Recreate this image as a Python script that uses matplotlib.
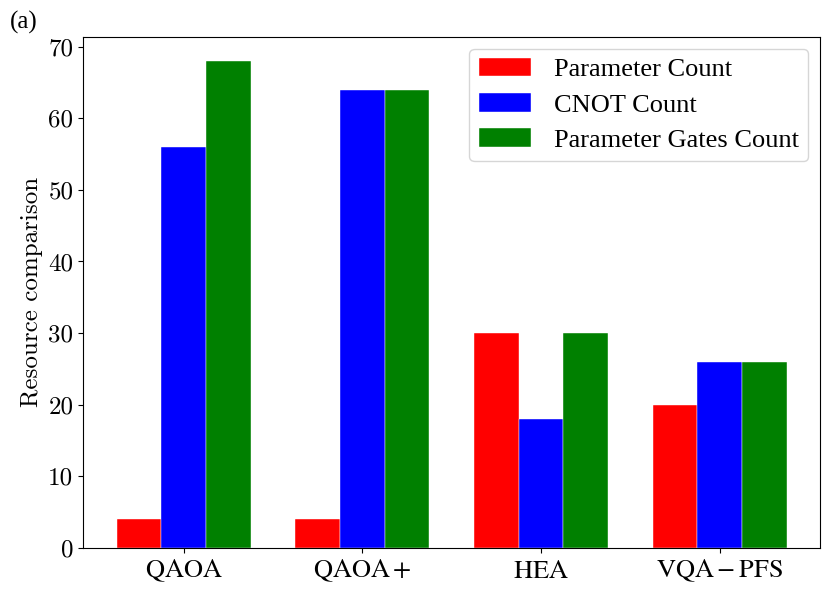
import numpy as np
import matplotlib
matplotlib.use('Agg')
import matplotlib.pyplot as plt

# data
methods = [r'$\mathrm{QAOA}$', r'$\mathrm{QAOA+}$', r'$\mathrm{HEA}$', r'$\mathrm{VQA-PFS}$']
param_count = [4, 4, 30, 20]
cnot_count = [56, 64, 18, 26]
param_gates_count = [68, 64, 30, 26]
series_names = ['Parameter Count', 'CNOT Count', 'Parameter Gates Count']
colors = ['red', 'blue', 'green']
yticks = [0, 10, 20, 30, 40, 50, 60, 70]

fig = plt.figure(figsize=(8.3, 5.91), dpi=100)
ax = fig.add_axes([0.1, 0.073, 0.888, 0.865])

x = np.arange(len(methods))
w = 0.25
for k, vals in enumerate([param_count, cnot_count, param_gates_count]):
    ax.bar(x + (k - 1) * w, vals, w, color=colors[k], label=series_names[k],
           edgecolor='white', linewidth=0.3)

ax.set_xticks(x)
ax.set_xticklabels(methods, fontsize=19, math_fontfamily='stix')
ax.set_yticks(yticks)
ax.set_yticklabels([str(v) for v in yticks], fontsize=18, family='cmr10')
ax.set_ylabel('Resource comparison', fontsize=18, family='cmr10')

ax.legend(prop={'family': 'Liberation Serif', 'size': 19}, loc='upper right',
          handlelength=2.0, handletextpad=0.85, borderpad=0.35, labelspacing=0.45,
          borderaxespad=0.45)

fig.text(0.012, 0.952, '(a)', fontsize=18, family='Liberation Serif')

fig.savefig('out.png', dpi=100)
